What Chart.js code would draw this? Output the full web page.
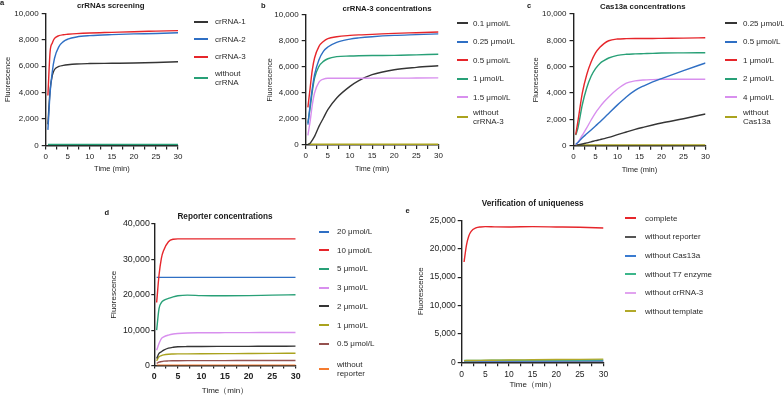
<!DOCTYPE html>
<html><head><meta charset="utf-8">
<script src="https://cdn.jsdelivr.net/npm/chart.js@4.4.1/dist/chart.umd.min.js"></script>
<style>
html,body{margin:0;padding:0;background:#fff;}
#wrap{position:relative;width:784px;height:396px;overflow:hidden;font-family:"Liberation Sans",Arial,Helvetica,sans-serif;color:#222;background:#fff;}
.hd{position:absolute;white-space:nowrap;font-weight:bold;transform:translate(-50%,-50%);line-height:1;color:#1a1a1a;}
.lt{position:absolute;white-space:nowrap;font-weight:bold;line-height:1;color:#1a1a1a;}
.lg{position:absolute;white-space:nowrap;font-size:8px;line-height:9px;color:#2a2a2a;will-change:transform;-webkit-font-smoothing:antialiased;}
.sw{position:absolute;height:2px;}
canvas{position:absolute;}
</style></head><body><div id="wrap"></div>
<script>
// ---------- data ----------
// Panel a: crRNAs screening
const timesA = [0.5,1,1.5,2,3,4,5,7,10,15,20,25,30];
const aCrRNA1 = [1600,4200,5300,5750,5980,6060,6110,6170,6200,6220,6240,6280,6330];
const aCrRNA2 = [1180,4000,5600,6600,7480,7860,8040,8210,8310,8390,8440,8470,8530];
const aCrRNA3 = [3780,7100,7750,8100,8310,8380,8410,8460,8510,8560,8610,8650,8690];
const aNone   = [70,70,70,70,70,70,70,70,70,70,70,70,70];
const labelsA = ['crRNA-1','crRNA-2','crRNA-3','without\ncrRNA'];

// Panel b: crRNA-3 concentrations
const timesB = [0.5,1,1.5,2,3,4,5,7,10,12,15,20,25,30];
const b01  = [30,130,380,660,1430,2070,2710,3610,4500,4940,5400,5780,5960,6080];
const b025 = [1560,3090,4370,5400,6550,7190,7520,7880,8130,8220,8310,8410,8470,8530];
const b05  = [2890,4370,5780,6680,7570,7950,8160,8310,8410,8450,8490,8570,8620,8670];
const b1   = [1700,2840,4120,5140,6040,6420,6620,6780,6830,6850,6870,6880,6920,6960];
const b15  = [740,1820,3090,3990,4830,5060,5120,5120,5120,5120,5130,5130,5140,5150];
const bNone= [60,60,60,60,60,60,60,60,60,60,60,60,60,60];
const labelsB = ['0.1 μmol/L','0.25 μmol/L','0.5 μmol/L','1 μmol/L','1.5 μmol/L','without\ncrRNA-3'];

// Panel c: Cas13a concentrations
const timesC = [0.5,1,2,3,4,5,6,7,8,10,12,14,16,18,20,25,30];
const c025 = [30,60,130,210,290,380,460,540,630,840,1040,1240,1410,1570,1720,2050,2410];
const c05  = [100,250,600,900,1200,1500,1800,2120,2450,3100,3700,4200,4550,4850,5100,5700,6280];
const c1   = [835,1850,4000,5390,6350,7040,7470,7770,7970,8100,8130,8140,8140,8140,8150,8170,8200];
const c2   = [800,1340,3110,4380,5270,5850,6250,6480,6660,6860,6940,6970,6990,7010,7040,7050,7060];
const c4   = [80,250,800,1350,1950,2500,2950,3350,3700,4300,4750,4920,4990,5020,5040,5050,5040];
const cNone= [60,60,60,60,60,60,60,60,60,60,60,60,60,60,60,60,60];
const labelsC = ['0.25 μmol/L','0.5 μmol/L','1 μmol/L','2 μmol/L','4 μmol/L','without\nCas13a'];

// Panel d: Reporter concentrations
const timesD = [0.5,1,1.5,2,3,4,5,7,10,15,20,25,30];
const d20  = [24900,24900,24900,24900,24900,24900,24900,24900,24900,24900,24900,24900,24900];
const d10  = [17800,25500,30300,32600,35000,35700,35800,35800,35800,35800,35800,35800,35800];
const d5   = [10000,16100,17800,18400,18950,19400,19700,19900,19750,19700,19750,19900,20000];
const d3   = [4300,6200,7600,8100,8600,8900,9050,9200,9250,9280,9300,9320,9340];
const d2   = [1980,3400,3900,4340,4900,5150,5280,5350,5380,5400,5420,5440,5470];
const d1   = [1320,2450,2800,3020,3200,3250,3280,3300,3320,3350,3380,3420,3480];
const d05  = [570,940,1100,1230,1300,1330,1350,1370,1380,1390,1400,1410,1420];
const dNone= [120,120,120,120,120,120,120,120,120,120,120,120,120];
const labelsD = ['20 μmol/L','10 μmol/L','5 μmol/L','3 μmol/L','2 μmol/L','1 μmol/L','0.5 μmol/L','without\nreporter'];

// Panel e: Verification of uniqueness
const timesE = [0.5,1,1.5,2,3,4,5,7,10,15,20,25,30];
const eComplete = [17660,20600,22240,23060,23650,23830,23880,23850,23830,23880,23830,23770,23650];
const eNoRep    = [60,60,60,60,60,60,60,60,60,60,60,60,60];
const eNoCas    = [200,200,205,205,210,210,215,220,225,235,240,250,260];
const eNoT7     = [320,325,330,330,335,340,345,350,360,380,395,410,420];
const eNoCr     = [250,250,252,255,258,260,262,265,270,280,285,295,300];
const eNoTpl    = [300,310,315,320,330,340,350,370,400,440,480,520,560];
const labelsE = ['complete','without reporter','without Cas13a','without T7 enzyme','without crRNA-3','without template'];

// ---------- styling ----------
const FONT = '"Liberation Sans", Arial, Helvetica, sans-serif';
const wrap = document.getElementById('wrap');

function text(cls, str, x, y, size, extra) {
  const d = document.createElement('div');
  d.className = cls; d.textContent = str;
  d.style.left = x + 'px'; d.style.top = y + 'px'; d.style.fontSize = size + 'px';
  if (extra) Object.assign(d.style, extra);
  wrap.appendChild(d);
}

function legend(sx, sw, tx, items) {
  items.forEach(it => {
    const s = document.createElement('div');
    s.className = 'sw';
    s.style.left = sx + 'px'; s.style.width = sw + 'px';
    s.style.top = (it.y - 1) + 'px'; s.style.background = it.color;
    wrap.appendChild(s);
    const lines = it.label.split('\n');
    const t = document.createElement('div');
    t.className = 'lg';
    t.style.left = tx + 'px';
    t.style.top = (it.y - lines.length * 9 / 2) + 'px';
    t.innerHTML = lines.map(l => l.replace(/&/g,'&amp;').replace(/</g,'&lt;')).join('<br>');
    wrap.appendChild(t);
  });
}

function panel(p) {
  const cv = document.createElement('canvas');
  cv.width = p.w; cv.height = p.h;
  cv.style.left = p.x0 + 'px'; cv.style.top = p.y0 + 'px';
  cv.style.width = p.w + 'px'; cv.style.height = p.h + 'px';
  wrap.appendChild(cv);
  const atLH = p.atf * 1.2;
  const ink = '#222';
  new Chart(cv, {
    type: 'line',
    data: {
      datasets: p.series.map(s => ({
        label: s.label,
        data: p.times.map((t, i) => ({x: t, y: s.values[i]})),
        borderColor: s.color, backgroundColor: s.color,
        borderWidth: 1.4, pointRadius: 0, fill: false,
        cubicInterpolationMode: 'monotone'
      }))
    },
    options: {
      responsive: false, animation: false, devicePixelRatio: 1,
      layout: {padding: {left: 0, top: p.T - p.y0, right: p.x0 + p.w - p.R, bottom: 0}},
      plugins: {legend: {display: false}, tooltip: {enabled: false}, title: {display: false}},
      scales: {
        x: {
          type: 'linear', min: 0, max: 30,
          afterFit: s => { s.height = p.y0 + p.h - p.B; },
          ticks: {
            stepSize: 2.5, autoSkip: false, maxRotation: 0, minRotation: 0,
            callback: v => (Math.abs(v % 5) < 1e-9 ? String(v) : ''),
            font: {family: FONT, size: p.xtf, weight: p.xtw || 'normal'},
            color: ink, padding: p.xtp
          },
          grid: {display: true, drawOnChartArea: false, drawTicks: true, tickLength: p.tl, color: ink, lineWidth: 1.2},
          border: {display: true, color: ink, width: 1.4},
          title: {display: true, text: p.xTitle, color: ink,
                  font: {family: FONT, size: p.atf},
                  padding: {top: 0, bottom: p.y0 + p.h - p.xTitleY - atLH / 2}}
        },
        y: {
          min: 0, max: p.ymax,
          afterFit: s => { s.width = p.L - p.x0; },
          ticks: {
            stepSize: p.ystep,
            callback: v => Number(v).toLocaleString('en-US'),
            font: {family: FONT, size: p.ytf}, color: ink, padding: p.ytp
          },
          grid: {display: true, drawOnChartArea: false, drawTicks: true, tickLength: p.tl, color: ink, lineWidth: 1.2},
          border: {display: true, color: ink, width: 1.4},
          title: {display: true, text: 'Fluorescence', color: ink,
                  font: {family: FONT, size: p.atf},
                  padding: {top: p.yTitleX - p.x0 - atLH / 2, bottom: 0}}
        }
      }
    }
  });
}

// colours
const BLACK = '#353535', BLUE = '#2f6fc4', RED = '#e6262b', GREEN = '#28a077',
      PINK = '#d88fee', OLIVE = '#aaa31e', BROWN = '#95514f', ORANGE = '#f57b2f';

// ---------- panel a ----------
panel({x0:0, y0:0, w:190, h:180, L:45.7, R:178, T:13.3, B:145.5,
  times: timesA, ymax: 10000, ystep: 2000,
  xtf: 8, ytf: 8, atf: 7.5, xtp: 2, ytp: 3, tl: 4,
  xTitle: 'Time (min)', xTitleY: 169.3, yTitleX: 7.5,
  series: [
    {label: labelsA[2], values: aCrRNA3, color: RED},
    {label: labelsA[1], values: aCrRNA2, color: BLUE},
    {label: labelsA[0], values: aCrRNA1, color: BLACK},
    {label: labelsA[3], values: aNone, color: GREEN}
  ]});
text('hd', 'crRNAs screening', 110.7, 6, 7.8);
text('lt', 'a', 0, -1, 7.5);
legend(194, 14, 215, [
  {label: labelsA[0], color: BLACK, y: 21.5},
  {label: labelsA[1], color: BLUE, y: 39},
  {label: labelsA[2], color: RED, y: 56.5},
  {label: labelsA[3], color: GREEN, y: 78}
]);

// ---------- panel b ----------
panel({x0:262, y0:0, w:188, h:180, L:305.7, R:438.5, T:14.7, B:145,
  times: timesB, ymax: 10000, ystep: 2000,
  xtf: 8, ytf: 8, atf: 7.2, xtp: 2, ytp: 3, tl: 4,
  xTitle: 'Time (min)', xTitleY: 169.3, yTitleX: 270.3,
  series: [
    {label: labelsB[2], values: b05, color: RED},
    {label: labelsB[1], values: b025, color: BLUE},
    {label: labelsB[3], values: b1, color: GREEN},
    {label: labelsB[4], values: b15, color: PINK},
    {label: labelsB[0], values: b01, color: BLACK},
    {label: labelsB[5], values: bNone, color: OLIVE}
  ]});
text('hd', 'crRNA-3 concentrations', 387, 9.3, 7.8);
text('lt', 'b', 261, 1.5, 7.5);
legend(456.7, 11.6, 473.3, [
  {label: labelsB[0], color: BLACK, y: 23},
  {label: labelsB[1], color: BLUE, y: 41.5},
  {label: labelsB[2], color: RED, y: 60},
  {label: labelsB[3], color: GREEN, y: 78.5},
  {label: labelsB[4], color: PINK, y: 97},
  {label: labelsB[5], color: OLIVE, y: 117}
]);

// ---------- panel c ----------
panel({x0:522, y0:0, w:195, h:180, L:573.5, R:705.5, T:14, B:145.7,
  times: timesC, ymax: 10000, ystep: 2000,
  xtf: 8, ytf: 8, atf: 7.5, xtp: 2, ytp: 3, tl: 4,
  xTitle: 'Time (min)', xTitleY: 170.3, yTitleX: 535.5,
  series: [
    {label: labelsC[2], values: c1, color: RED},
    {label: labelsC[3], values: c2, color: GREEN},
    {label: labelsC[1], values: c05, color: BLUE},
    {label: labelsC[4], values: c4, color: PINK},
    {label: labelsC[0], values: c025, color: BLACK},
    {label: labelsC[5], values: cNone, color: OLIVE}
  ]});
text('hd', 'Cas13a concentrations', 642.8, 7.3, 7.8);
text('lt', 'c', 527, 1.5, 7.5);
legend(725, 12, 743, [
  {label: labelsC[0], color: BLACK, y: 23},
  {label: labelsC[1], color: BLUE, y: 41.5},
  {label: labelsC[2], color: RED, y: 60},
  {label: labelsC[3], color: GREEN, y: 78.5},
  {label: labelsC[4], color: PINK, y: 97},
  {label: labelsC[5], color: OLIVE, y: 117}
]);

// ---------- panel d ----------
panel({x0:100, y0:200, w:210, h:196, L:154.3, R:295.7, T:224, B:365.5,
  times: timesD, ymax: 40000, ystep: 10000,
  xtf: 8.8, xtw: 'bold', ytf: 8.8, atf: 8, xtp: 3, ytp: 1.5, tl: 3,
  xTitle: 'Time（min）', xTitleY: 391, yTitleX: 113.3,
  series: [
    {label: labelsD[1], values: d10, color: RED},
    {label: labelsD[0], values: d20, color: BLUE},
    {label: labelsD[2], values: d5, color: GREEN},
    {label: labelsD[3], values: d3, color: PINK},
    {label: labelsD[4], values: d2, color: BLACK},
    {label: labelsD[5], values: d1, color: OLIVE},
    {label: labelsD[6], values: d05, color: BROWN},
    {label: labelsD[7], values: dNone, color: ORANGE}
  ]});
text('hd', 'Reporter concentrations', 225, 216.7, 8.2);
text('lt', 'd', 104.5, 209, 7.5);
legend(318.7, 10.6, 337, [
  {label: labelsD[0], color: BLUE, y: 231.7},
  {label: labelsD[1], color: RED, y: 250.3},
  {label: labelsD[2], color: GREEN, y: 268.9},
  {label: labelsD[3], color: PINK, y: 287.5},
  {label: labelsD[4], color: BLACK, y: 306.3},
  {label: labelsD[5], color: OLIVE, y: 325.1},
  {label: labelsD[6], color: BROWN, y: 343.9},
  {label: labelsD[7], color: ORANGE, y: 369.3}
]);

// ---------- panel e ----------
panel({x0:400, y0:200, w:215, h:196, L:461.7, R:603.5, T:220.3, B:362.3,
  times: timesE, ymax: 25000, ystep: 5000,
  xtf: 8.5, ytf: 8.5, atf: 8, xtp: 3, ytp: 2, tl: 4,
  xTitle: 'Time（min）', xTitleY: 384.3, yTitleX: 421,
  series: [
    {label: labelsE[0], values: eComplete, color: RED},
    {label: labelsE[5], values: eNoTpl, color: '#b2a92a'},
    {label: labelsE[3], values: eNoT7, color: '#3db68b'},
    {label: labelsE[2], values: eNoCas, color: '#3a7bd0'},
    {label: labelsE[4], values: eNoCr, color: '#e1a3ef'},
    {label: labelsE[1], values: eNoRep, color: '#555555'}
  ]});
text('hd', 'Verification of uniqueness', 532.7, 204, 8.2);
text('lt', 'e', 405.5, 206.5, 7.5);
legend(624.7, 11.6, 644.7, [
  {label: labelsE[0], color: '#e6262b', y: 218.3},
  {label: labelsE[1], color: '#555555', y: 236.9},
  {label: labelsE[2], color: '#3a7bd0', y: 255.5},
  {label: labelsE[3], color: '#3db68b', y: 274.1},
  {label: labelsE[4], color: '#e1a3ef', y: 292.7},
  {label: labelsE[5], color: '#b2a92a', y: 311.3}
]);
</script></body></html>
